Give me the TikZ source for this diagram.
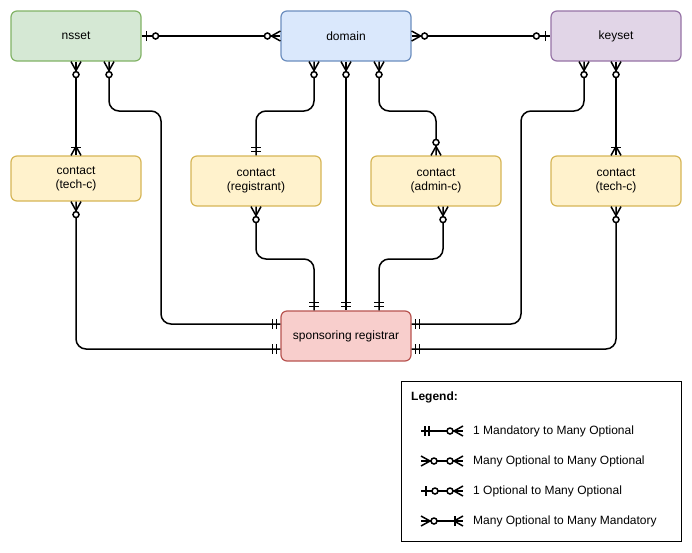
\documentclass[tikz,border=0pt]{standalone}
\usepackage{fontspec}
\setmainfont{Liberation Sans}
\usetikzlibrary{decorations.markings,calc}
\definecolor{gfill}{HTML}{D5E8D4}\definecolor{gline}{HTML}{82B366}
\definecolor{bfill}{HTML}{DAE8FC}\definecolor{bline}{HTML}{6C8EBF}
\definecolor{pfill}{HTML}{E1D5E7}\definecolor{pline}{HTML}{9673A6}
\definecolor{yfill}{HTML}{FFF2CC}\definecolor{yline}{HTML}{D6B656}
\definecolor{rfill}{HTML}{F8CECC}\definecolor{rline}{HTML}{B85450}
\newcommand\erCrow{\draw[ermk] (-9pt,0pt) -- (0pt,5pt) (-9pt,0pt) -- (0pt,-5pt);}
\newcommand\erBar[1]{\draw[ermk] (#1,-5pt) -- (#1,5pt);}
\newcommand\erCirc[1]{\draw[ermk,fill=white] (#1,0pt) circle (3pt);}
\newcommand\erManyOpt{\erCrow\erCirc{-13pt}}
\newcommand\erOneOpt{\erBar{-5pt}\erCirc{-14pt}}
\newcommand\erMandOne{\erBar{-4pt}\erBar{-8pt}}
\newcommand\erManyMand{\erCrow\erBar{-8pt}}
\tikzset{
  ent/.style={draw, rounded corners=6pt, minimum width=130pt, minimum height=50pt,
    inner sep=0pt, line width=1.2pt, align=center, font=\fontsize{12}{14}\selectfont},
  green ent/.style={ent, fill=gfill, draw=gline},
  blue ent/.style={ent, fill=bfill, draw=bline},
  purple ent/.style={ent, fill=pfill, draw=pline},
  yellow ent/.style={ent, fill=yfill, draw=yline},
  red ent/.style={ent, fill=rfill, draw=rline},
  conn/.style={line width=1.5pt, rounded corners=10pt},
  ermk/.style={line width=1.5pt, sharp corners, line cap=butt},
  lbl/.style={anchor=west, inner sep=0pt, font=\fontsize{12}{14}\selectfont},
  e many opt/.style={postaction={decorate,decoration={markings,mark=at position 1 with {\erManyOpt}}}},
  s many opt/.style={postaction={decorate,decoration={markings,mark=at position 0 with {\begin{scope}[xscale=-1]\erManyOpt\end{scope}}}}},
  e one opt/.style={postaction={decorate,decoration={markings,mark=at position 1 with {\erOneOpt}}}},
  s one opt/.style={postaction={decorate,decoration={markings,mark=at position 0 with {\begin{scope}[xscale=-1]\erOneOpt\end{scope}}}}},
  e mand one/.style={postaction={decorate,decoration={markings,mark=at position 1 with {\erMandOne}}}},
  s mand one/.style={postaction={decorate,decoration={markings,mark=at position 0 with {\begin{scope}[xscale=-1]\erMandOne\end{scope}}}}},
  e many mand/.style={postaction={decorate,decoration={markings,mark=at position 1 with {\erManyMand}}}},
}
\begin{document}
\begin{tikzpicture}[x=1pt,y=-1pt]
\useasboundingbox[fill=white] (0,0) rectangle (692,552);
% entities
\node[green ent] (nsset) at (76,36) {nsset};
\node[blue ent] (domain) at (346,36) {domain};
\node[purple ent] (keyset) at (616,36) {keyset};
\node[yellow ent, minimum height=45pt] (techl) at (76,178.5) {contact\\(tech-c)};
\node[yellow ent] (registrant) at (256,181) {contact\\(registrant)};
\node[yellow ent] (admin) at (436,181) {contact\\(admin-c)};
\node[yellow ent] (techr) at (616,181) {contact\\(tech-c)};
\node[red ent] (reg) at (346,336) {sponsoring registrar};
% connectors
\draw[conn, s one opt, e many opt] (nsset.east) -- (domain.west);
\draw[conn, s many opt, e one opt] (domain.east) -- (keyset.west);
\draw[conn, s many opt, e many mand] (nsset.south) -- (techl.north);
\draw[conn, s many opt, e mand one] ([xshift=33pt]nsset.south) -- (109,111) -- (161,111) -- (161,324) -- ([yshift=12pt]reg.west);
\draw[conn, s many opt, e mand one] ([xshift=-32pt]domain.south) -- (314,111) -- (256,111) -- (registrant.north);
\draw[conn, s many opt, e mand one] (domain.south) -- (reg.north);
\draw[conn, s many opt, e many opt] ([xshift=33pt]domain.south) -- (379,111) -- (436,111) -- (admin.north);
\draw[conn, s many opt, e mand one] ([xshift=-32pt]keyset.south) -- (584,111) -- (521,111) -- (521,324) -- ([yshift=12pt]reg.east);
\draw[conn, s many opt, e many mand] (keyset.south) -- (techr.north);
\draw[conn, s many opt, e mand one] (techl.south) -- (76,349) -- ([yshift=-13pt]reg.west);
\draw[conn, s many opt, e mand one] (registrant.south) -- (256,259) -- (314,259) -- ([xshift=-32pt]reg.north);
\draw[conn, s many opt, e mand one] ([xshift=7pt]admin.south) -- (443,259) -- (379,259) -- ([xshift=33pt]reg.north);
\draw[conn, s many opt, e mand one] (techr.south) -- (616,349) -- ([yshift=-13pt]reg.east);
% legend
\node[draw, line width=1pt, minimum width=280pt, minimum height=160pt, inner sep=0pt] (legend) at (541,461) {};
\node[lbl, font=\fontsize{12}{14}\selectfont\bfseries] (legtitle) at (411,397) {Legend:};
\coordinate (l1a) at (421,431); \coordinate (l1b) at (463,431);
\coordinate (l2a) at (421,461); \coordinate (l2b) at (463,461);
\coordinate (l3a) at (421,491); \coordinate (l3b) at (463,491);
\coordinate (l4a) at (421,521); \coordinate (l4b) at (463,521);
\draw[conn, s mand one, e many opt] (l1a) -- (l1b);
\draw[conn, s many opt, e many opt] (l2a) -- (l2b);
\draw[conn, s one opt, e many opt] (l3a) -- (l3b);
\draw[conn, s many opt, e many mand] (l4a) -- (l4b);
\node[lbl] (t1) at (473,431) {1 Mandatory to Many Optional};
\node[lbl] (t2) at (473,461) {Many Optional to Many Optional};
\node[lbl] (t3) at (473,491) {1 Optional to Many Optional};
\node[lbl] (t4) at (473,521) {Many Optional to Many Mandatory};
\end{tikzpicture}
\end{document}
